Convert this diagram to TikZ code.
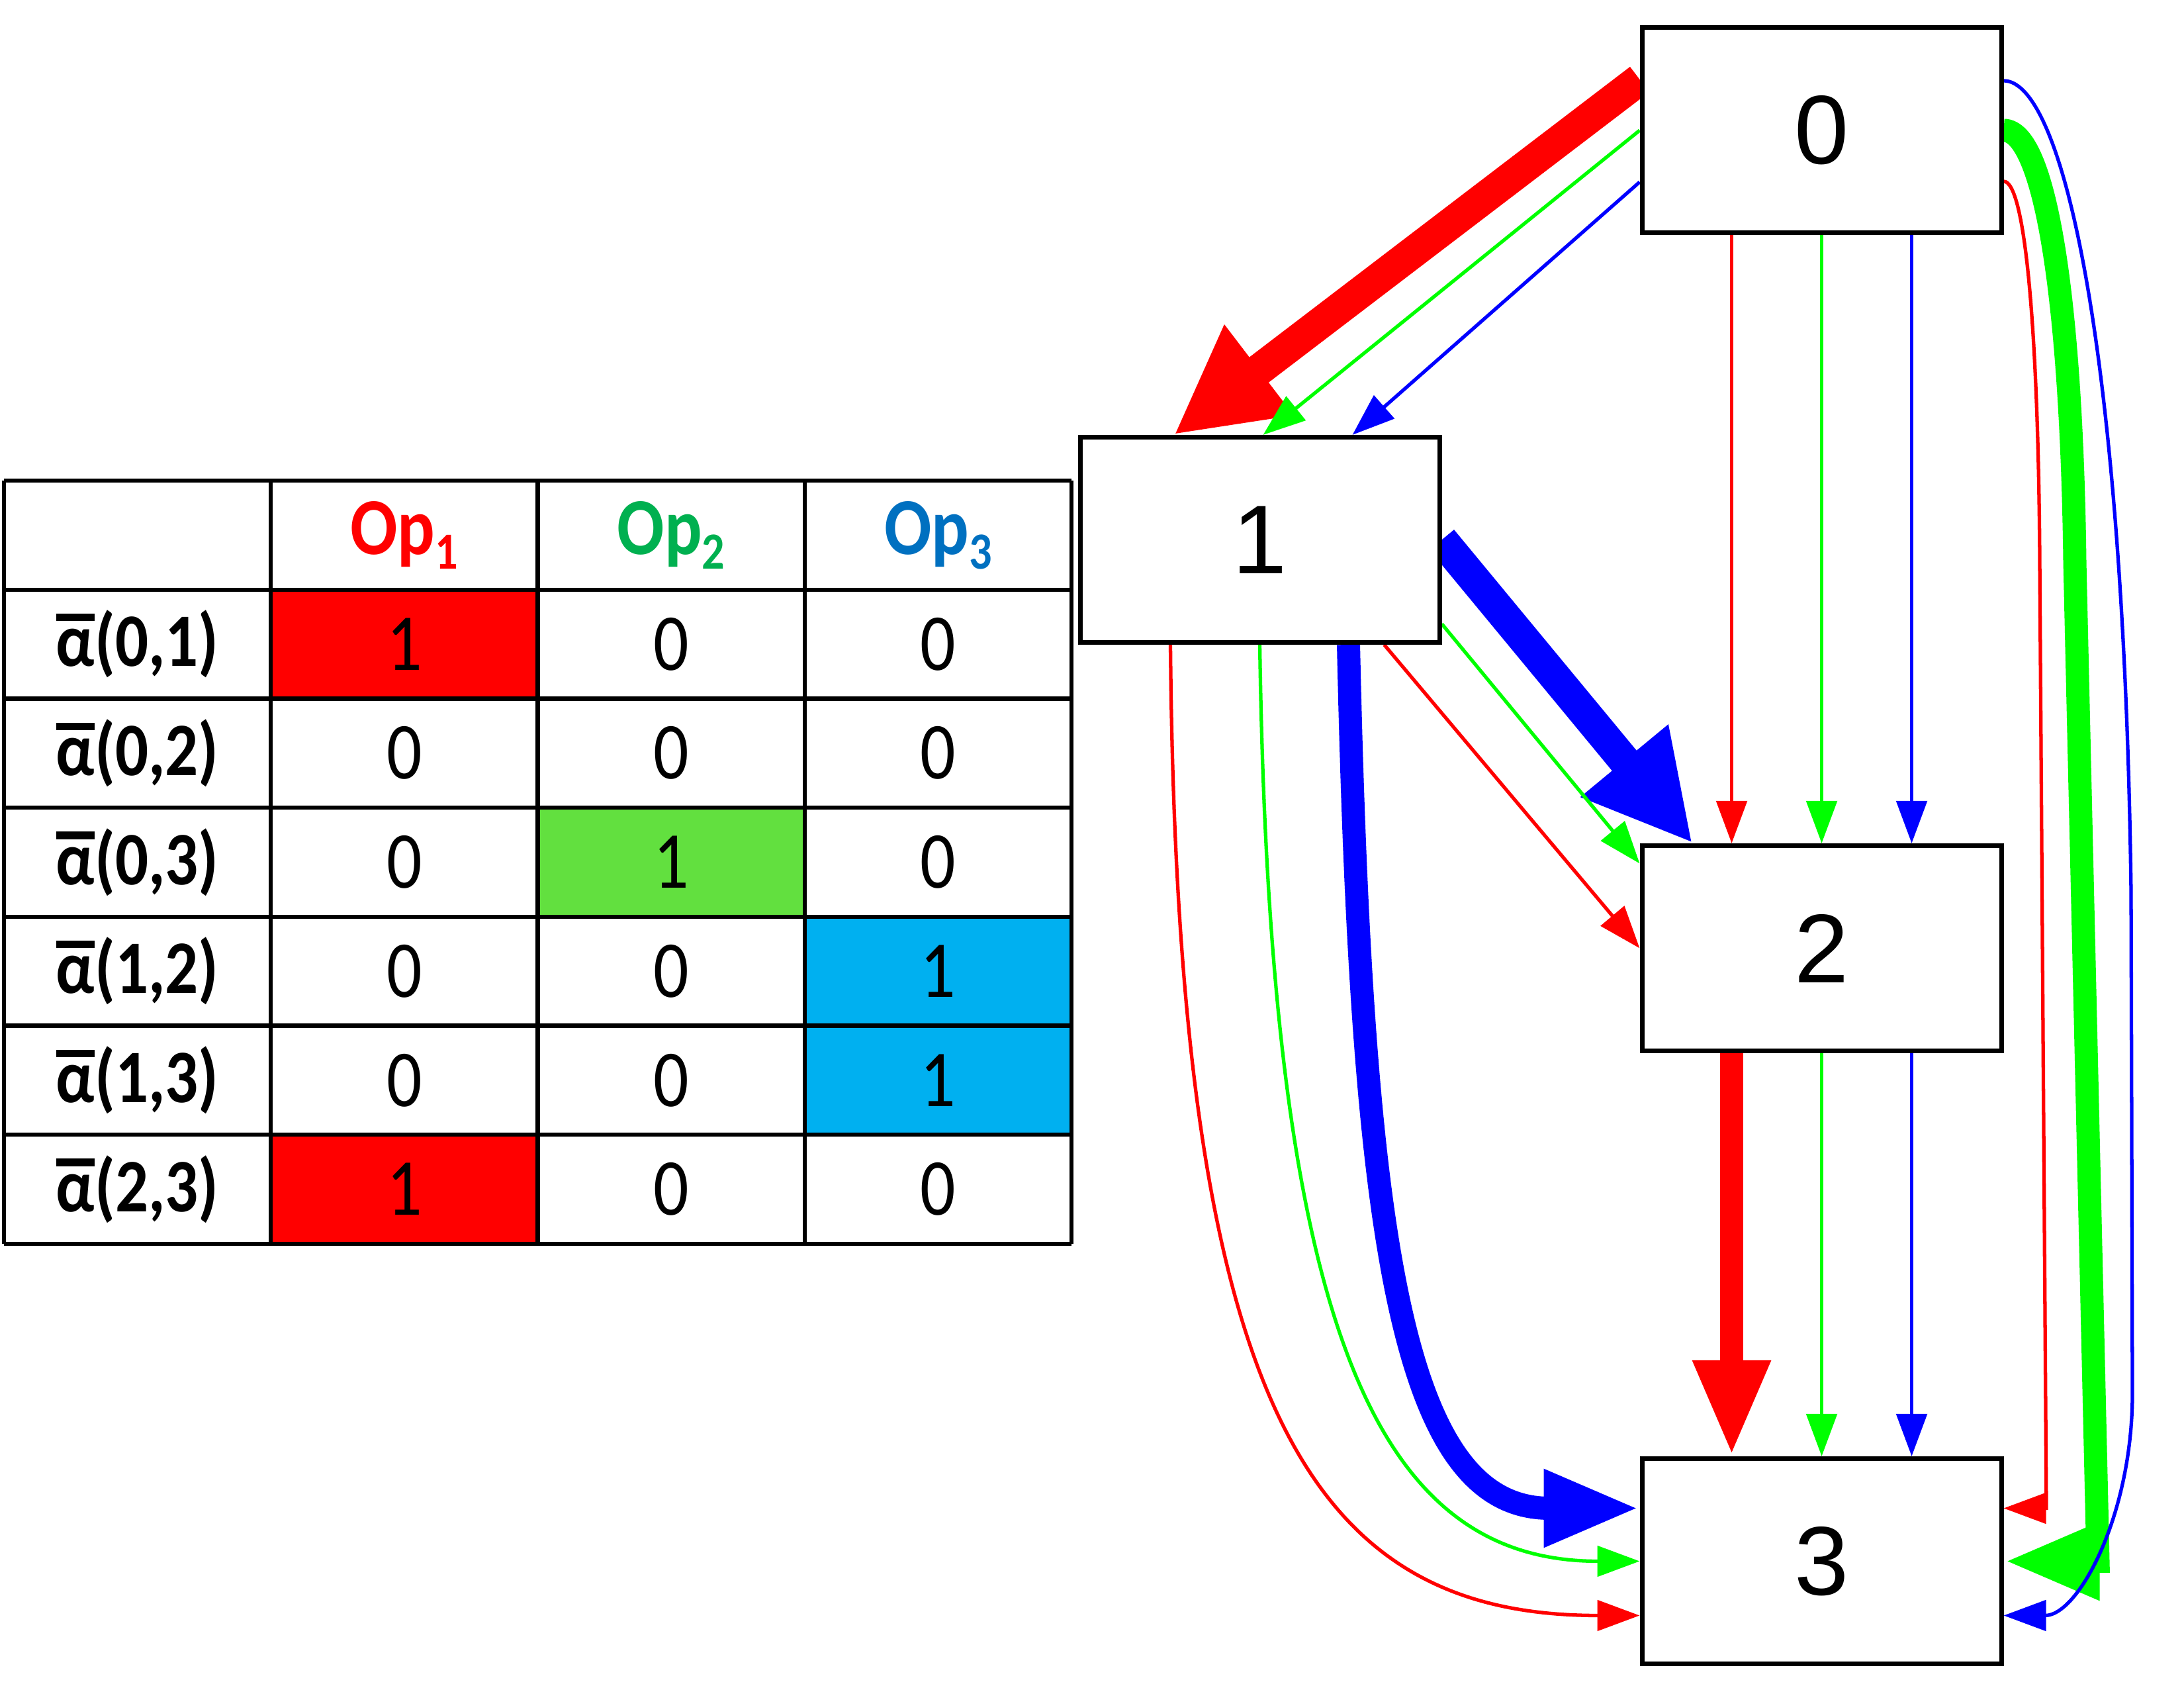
\documentclass[tikz,border=0pt]{standalone}
\usepackage{fontspec}
\setmainfont{Carlito}
\newfontfamily\boxfont{Liberation Sans}
\usetikzlibrary{arrows.meta}
\definecolor{opred}{HTML}{FF0000}
\definecolor{opgreen}{HTML}{00FF00}
\definecolor{opblue}{HTML}{0000FF}
\definecolor{hdgreen}{HTML}{00B050}
\definecolor{hdblue}{HTML}{0070C0}
\definecolor{cellgreen}{HTML}{62E03F}
\definecolor{cellblue}{HTML}{00B0F0}
\newcommand{\abar}{\setbox0\hbox{α}\rlap{\rule[0.6em]{\wd0}{0.1em}}\box0}
\newcommand{\opname}[1]{Op\raisebox{-0.18em}{\fontsize{20}{20}\selectfont #1}}
\pgfdeclarelayer{edges}
\pgfsetlayers{edges,main}
\tikzset{
  every picture/.style={line join=miter},
  state/.style={draw, fill=white, line width=2pt, minimum width=5.43cm,
    minimum height=3.1cm, inner sep=0pt,
    font=\boxfont\fontsize{42}{48}\selectfont},
  arc/.style={line width=1.5pt, -{Triangle[length=6.4mm,width=4.6mm]}},
  heavy/.style={line width=3.5mm, -{Triangle[length=14.5mm,width=10.8mm]}},
  heavy diag/.style={line width=4.8mm, -{Triangle[length=16.2mm,width=16mm]}},
  gridline/.style={line width=1.8pt},
  tall/.style={xscale=0.97, yscale=1.12, transform shape},
  head/.style={tall, font=\bfseries\fontsize{31}{31}\selectfont},
  rowlab/.style={tall, font=\bfseries\fontsize{29}{29}\selectfont},
  cell/.style={tall, font=\fontsize{31}{31}\selectfont},
}

\begin{document}
\begin{tikzpicture}
\useasboundingbox (0,0) rectangle (33,25.5);

% table
\fill[opred] (4.0925,16.593) rectangle (8.125,14.946);
\fill[cellgreen] (8.125,13.299) rectangle (12.1575,11.652);
\fill[cellblue] (12.1575,11.652) rectangle (16.19,8.358);
\fill[opred] (4.0925,8.358) rectangle (8.125,6.711);
\foreach \i in {0,...,4}
  \draw[gridline] ({0.06+\i*4.0325},6.711) -- ({0.06+\i*4.0325},18.24);
\foreach \j in {0,...,7}
  \draw[gridline] (0.06,{6.711+\j*1.647}) -- (16.19,{6.711+\j*1.647});

\node[head, text=opred] (h1) at (6.109,17.4165) {\opname{1}};
\node[head, text=hdgreen] (h2) at (10.141,17.4165) {\opname{2}};
\node[head, text=hdblue] (h3) at (14.174,17.4165) {\opname{3}};

\foreach \r/\lab/\va/\vb/\vc in {1/{0,1}/1/0/0, 2/{0,2}/0/0/0, 3/{0,3}/0/1/0,
    4/{1,2}/0/0/1, 5/{1,3}/0/0/1, 6/{2,3}/1/0/0} {
  \node[rowlab] (r\r) at (2.076,{18.24-(\r+0.5)*1.647}) {\abar(\lab)};
  \node[cell] (v\r-1) at (6.109,{18.24-(\r+0.5)*1.647}) {\va};
  \node[cell] (v\r-2) at (10.141,{18.24-(\r+0.5)*1.647}) {\vb};
  \node[cell] (v\r-3) at (14.174,{18.24-(\r+0.5)*1.647}) {\vc};
}

% graph
\node[state] (n0) at (27.525,23.53) {0};
\node[state] (n1) at (19.035,17.345) {1};
\node[state] (n2) at (27.525,11.175) {2};
\node[state] (n3) at (27.525,1.915) {3};

\begin{pgfonlayer}{edges}
% 0 -> 1
\draw[heavy diag, opred] ([yshift=7.7mm]n0.west) -- ([xshift=-13mm]n1.north);
\draw[arc, opgreen] (n0.west) -- ([xshift=0.5mm]n1.north);
\draw[arc, opblue] ([yshift=-7.8mm]n0.west) -- ([xshift=14mm]n1.north);
% 0 -> 2
\draw[arc, opred] ([xshift=-13.6mm]n0.south) -- ([xshift=-13.6mm]n2.north);
\draw[arc, opgreen] (n0.south) -- (n2.north);
\draw[arc, opblue] ([xshift=13.6mm]n0.south) -- ([xshift=13.6mm]n2.north);
% 2 -> 3
\draw[heavy, opred] ([xshift=-13.6mm]n2.south) -- ([xshift=-13.6mm]n3.north);
\draw[arc, opgreen] (n2.south) -- (n3.north);
\draw[arc, opblue] ([xshift=13.6mm]n2.south) -- ([xshift=13.6mm]n3.north);
% 1 -> 2
\draw[heavy diag, opblue] (n1.east) -- ([xshift=-19.5mm]n2.north);
\draw[arc, opgreen] ([yshift=-12.7mm]n1.east) -- ([yshift=12.8mm]n2.west);
\draw[arc, opred] ([xshift=18.8mm]n1.south) -- (n2.west);
% 1 -> 3
\draw[arc, opred] ([xshift=-13.5mm]n1.south)
  .. controls +(0.1,-11.5) and +(-5,0) .. ([yshift=-8.2mm]n3.west);
\draw[arc, opgreen] (n1.south)
  .. controls +(0.15,-10.3) and +(-4,0) .. (n3.west);
\draw[heavy, opblue] ([xshift=13.4mm]n1.south)
  .. controls +(0.2,-9) and +(-3.6,0) .. ([yshift=8mm]n3.west);
% 0 -> 3
\draw[arc, opred] ([yshift=-7.7mm]n0.east)
  .. controls (30.6,22.76) and (30.8,20.5) .. (30.82,17)
  -- (30.92,2.715) -- ([yshift=8mm]n3.east);
\draw[heavy, opgreen] (n0.east)
  .. controls (30.9,23.53) and (31.3,21) .. (31.35,17)
  -- (31.7,1.915) -- (n3.east);
\draw[arc, opblue] ([yshift=7.5mm]n0.east)
  .. controls (31.2,24.28) and (32.1,20) .. (32.2,12)
  -- (32.22,4.45) .. controls (32.22,2.6) and (31.4,1.095) .. ([yshift=-8.2mm]n3.east);
\end{pgfonlayer}
\end{tikzpicture}
\end{document}
